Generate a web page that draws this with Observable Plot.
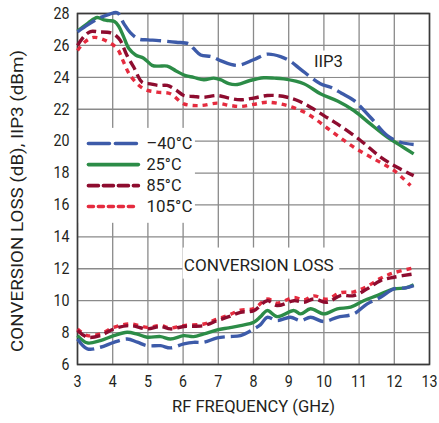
<!DOCTYPE html>
<html><head><meta charset="utf-8">
<script src="https://cdn.jsdelivr.net/npm/d3@7"></script>
<script src="https://cdn.jsdelivr.net/npm/@observablehq/plot@0.6"></script>
<style>
html,body{margin:0;padding:0;background:#fff;}
</style>
</head><body><div id="chart"></div>
<script>
// ---------- data ----------
const seriesNames = ["–40°C", "25°C", "85°C", "105°C"];
const seriesColors = ["#3d5ba9", "#2c8c47", "#8e0c2f", "#e52b3e"];
const seriesDash = ["21,6", null, "10,5", "5,5"];

// IIP3 (dBm)
const iip3FreqM40 = [3.0,3.3,3.6,3.9,4.13,4.32,4.5,4.74,5.0,5.31,5.8,6.16,6.3,6.5,6.8,7.06,7.54,8.0,8.39,8.77,9.05,9.34,9.9,10.19,10.5,10.85,11.32,11.8,12.18,12.55];
const iip3M40 =     [26.85,27.3,27.7,27.95,28.05,27.35,26.8,26.4,26.35,26.3,26.2,26.1,25.8,25.4,25.3,25.05,24.75,25.1,25.45,25.3,25.0,24.5,23.6,23.38,23.0,22.55,21.5,20.35,19.93,19.79];
const iip3Freq25 = [3.0,3.3,3.56,3.75,3.89,4.05,4.17,4.3,4.46,4.65,4.88,5.12,5.3,5.55,5.8,6.07,6.3,6.59,6.87,7.06,7.3,7.54,7.9,8.29,8.6,8.86,9.43,9.9,10.4,10.85,11.32,11.8,12.18,12.55];
const iip3_25 =    [26.9,27.4,27.75,27.6,27.55,27.5,27.2,26.6,25.8,25.4,25.2,24.75,24.7,24.7,24.4,24.1,24.0,23.85,23.95,23.85,23.6,23.55,23.8,23.97,23.95,23.9,23.6,22.97,22.5,21.92,21.08,20.25,19.72,19.2];
const iip3Freq85 = [3.0,3.2,3.37,3.6,3.94,4.1,4.22,4.4,4.6,4.84,5.07,5.3,5.55,5.8,6.02,6.3,6.59,6.97,7.3,7.63,8.0,8.39,8.7,8.96,9.3,9.62,10.0,10.38,11.04,11.61,12.08,12.55];
const iip3_85 =    [26.0,26.6,26.87,26.85,26.79,26.6,26.3,25.4,24.63,23.69,23.59,23.49,23.49,23.2,22.86,22.8,22.75,22.86,22.7,22.59,22.7,22.86,22.85,22.75,22.5,22.13,21.6,21.08,20.04,19.0,18.36,17.84];
const iip3Freq105 = [3.0,3.2,3.46,3.84,4.13,4.3,4.5,4.88,5.26,5.64,6.02,6.49,6.97,7.3,7.63,8.0,8.39,8.96,9.53,10.19,10.85,11.51,11.99,12.46];
const iip3_105 =    [25.68,26.2,26.5,26.26,25.79,25.0,24.11,23.28,23.07,22.97,22.34,22.23,22.38,22.25,22.17,22.3,22.44,22.23,21.71,20.66,19.62,18.78,18.16,17.22];

// Conversion loss (dB)
const clFreqM40 = [3.0,3.28,3.65,4.03,4.41,4.7,4.98,5.36,5.64,6.02,6.3,6.59,6.97,7.3,7.63,8.01,8.2,8.39,8.67,9.05,9.34,9.62,10.0,10.38,10.85,11.23,11.61,11.99,12.32,12.55];
const clM40 =     [7.6,6.98,7.08,7.39,7.6,7.4,7.18,7.18,7.04,7.29,7.39,7.39,7.67,7.75,7.81,8.23,8.5,8.96,8.75,8.96,8.75,8.96,8.69,8.96,9.17,9.8,10.21,10.74,10.8,10.95];
const clFreq25 = [3.0,3.28,3.65,4.03,4.41,4.7,4.98,5.36,5.64,6.02,6.3,6.59,6.97,7.3,7.63,8.01,8.2,8.39,8.67,9.15,9.34,9.62,10.0,10.38,10.76,11.13,11.51,11.99,12.32,12.55];
const cl25 =     [7.81,7.35,7.5,7.81,8.02,7.9,7.71,7.75,7.6,7.81,7.75,7.92,8.17,8.3,8.44,8.65,9.0,9.38,9.0,9.38,9.17,9.49,9.17,9.49,9.59,10.0,10.32,10.74,10.8,11.0];
const clFreqHot = [3.0,3.28,3.65,4.03,4.5,4.98,5.36,5.64,6.02,6.59,6.97,7.3,7.63,8.01,8.39,8.67,9.15,9.43,9.71,10.09,10.47,10.85,11.23,11.61,11.99,12.55];
const cl85 =      [8.13,7.71,7.81,8.23,8.44,8.23,8.38,8.23,8.38,8.44,8.75,9.0,9.27,9.38,10.0,9.69,10.0,9.9,10.11,9.9,10.32,10.32,10.74,11.26,11.47,11.68];
const cl105 =     [8.23,7.81,7.92,8.33,8.54,8.33,8.44,8.29,8.44,8.54,8.85,9.1,9.4,9.5,10.1,9.85,10.2,10.05,10.3,10.1,10.5,10.55,10.9,11.4,11.75,12.05];

const xTicks = [3,4,5,6,7,8,9,10,11,12,13];
const yTicks = [6,8,10,12,14,16,18,20,22,24,26,28];
const curveLabels = ["IIP3", "CONVERSION LOSS"];
const xLabel = "RF FREQUENCY (GHz)";
const yLabel = "CONVERSION LOSS (dB), IIP3 (dBm)";

// ---------- build tables ----------
function rows(fs, vs, s) { return fs.map((f, i) => ({f, v: vs[i], s})); }
const curves = [
  [rows(iip3FreqM40, iip3M40, 0), rows(clFreqM40, clM40, 0)],
  [rows(iip3Freq25, iip3_25, 1), rows(clFreq25, cl25, 1)],
  [rows(iip3Freq85, iip3_85, 2), rows(clFreqHot, cl85, 2)],
  [rows(iip3Freq105, iip3_105, 3), rows(clFreqHot, cl105, 3)]
];

// annotation layout (label boxes and legend placement, in data units)
const labelBoxes = [
  {x1: 9.55, x2: 10.75, y1: 24.0, y2: 25.65, tx: 10.13, ty: 25.0, text: curveLabels[0]},
  {x1: 6.0, x2: 10.45, y1: 11.35, y2: 13.3, tx: 8.15, ty: 12.2, text: curveLabels[1]}
];
const legendBox = {x1: 3.03, x2: 6.35, y1: 14.85, y2: 20.8};
const legendRowsY = [19.85, 18.53, 17.21, 15.9];
const legendLineX = [3.31, 4.73];
const legendTextX = 4.96;

// target widths (px) that mimic the condensed face of the original
const textWidths = new Map([
  [xLabel, 163], [yLabel, 302], [curveLabels[0], 29], [curveLabels[1], 150],
  [seriesNames[0], 46], [seriesNames[1], 35], [seriesNames[2], 35], [seriesNames[3], 46]
]);

const font = "Roboto, 'Liberation Sans', sans-serif";
const ink = "#231f20";

const marks = [
  Plot.gridX(xTicks, {stroke: "#8a8a8a", strokeOpacity: 1, strokeWidth: 1.3}),
  Plot.gridY(yTicks, {stroke: "#8a8a8a", strokeOpacity: 1, strokeWidth: 1.3}),
  Plot.rect([legendBox], {x1: "x1", x2: "x2", y1: "y1", y2: "y2", fill: "white"}),
  Plot.rect(labelBoxes, {x1: "x1", x2: "x2", y1: "y1", y2: "y2", fill: "white"}),
  Plot.frame({stroke: "#3a3a3a", strokeWidth: 1.6}),
  Plot.axisX(xTicks, {tickSize: 0, tickPadding: 11, fontSize: 16.5, fill: ink, label: null}),
  Plot.axisY(yTicks, {tickSize: 0, tickPadding: 8, fontSize: 16.5, fill: ink, label: null}),
];
for (let k = 3; k >= 0; k--) {
  for (const part of curves[k]) {
    marks.push(Plot.line(part, {x: "f", y: "v", stroke: seriesColors[k], strokeWidth: 3.4,
      strokeDasharray: seriesDash[k] || undefined, curve: "catmull-rom", strokeLinecap: "butt"}));
  }
}
// legend
seriesNames.forEach((name, k) => {
  marks.push(Plot.line([{f: legendLineX[0], v: legendRowsY[k]}, {f: legendLineX[1], v: legendRowsY[k]}],
    {x: "f", y: "v", stroke: seriesColors[k], strokeWidth: 3.6, strokeDasharray: seriesDash[k] || undefined}));
  marks.push(Plot.text([name], {x: legendTextX, y: legendRowsY[k], text: d => d, textAnchor: "start", fontSize: 17, fill: ink}));
});
marks.push(Plot.text(labelBoxes, {x: "tx", y: "ty", text: "text", fontSize: 17, fill: ink}));
marks.push(Plot.text([xLabel], {frameAnchor: "bottom", dy: 47, fontSize: 16.5, fill: ink}));
// rotated title anchored at its start (bottom end) so the condensed length runs upward
marks.push(Plot.text([yLabel], {frameAnchor: "left", dx: -60, dy: 163, rotate: -90, textAnchor: "start", fontSize: 16.5, fill: ink}));

const chart = Plot.plot({
  width: 439, height: 423,
  marginLeft: 77, marginRight: 10, marginTop: 13, marginBottom: 59,
  x: {domain: [3, 13]},
  y: {domain: [6, 28]},
  style: {fontFamily: font, fontSize: "16px", color: ink, background: "white"},
  marks
});
document.getElementById("chart").appendChild(chart);

// condense text to the original's narrow face
d3.select(chart).selectAll("text").each(function () {
  const t = this.textContent;
  if (textWidths.has(t)) {
    this.setAttribute("textLength", textWidths.get(t));
    this.setAttribute("lengthAdjust", "spacingAndGlyphs");
  } else if (/^\d+$/.test(t)) {
    const w = this.getComputedTextLength();
    this.setAttribute("textLength", (w * 0.86).toFixed(1));
    this.setAttribute("lengthAdjust", "spacingAndGlyphs");
  }
});
</script>
</body></html>
